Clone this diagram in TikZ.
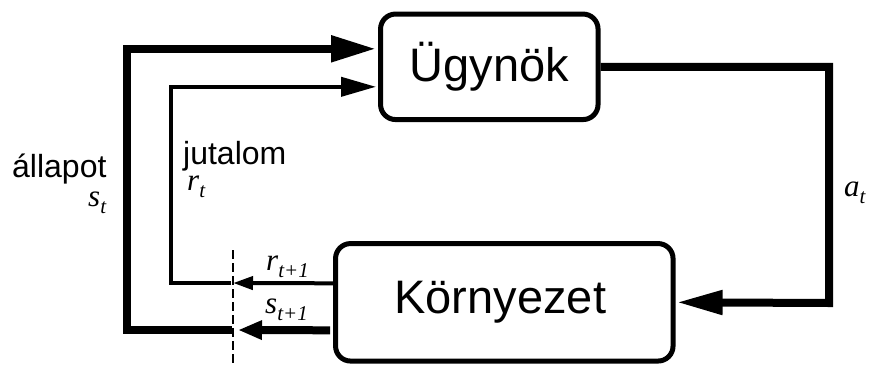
\documentclass[tikz,border=0pt]{standalone}
\usepackage{fontspec}
\setmainfont{Liberation Sans}
\newfontfamily\tms{Liberation Serif}
\usetikzlibrary{arrows.meta}
\newcommand\msub[2]{{\tms\itshape #1\raisebox{-7pt}{\fontsize{21}{21}\selectfont #2}}}
\tikzset{
  boxnode/.style={draw, line width=5pt, rounded corners=15pt, inner sep=0pt,
    font=\fontsize{47}{50}\selectfont},
  heavy/.style={line width=8pt},
  light/.style={line width=4pt},
  lbl/.style={anchor=base west, inner sep=0pt, font=\fontsize{32}{34}\selectfont},
  mlbl/.style={anchor=base west, inner sep=0pt, font=\fontsize{31}{34}\selectfont},
  sepline/.style={line width=1.3pt, dash pattern=on 9pt off 4pt},
}
\begin{document}
\begin{tikzpicture}[x=1pt,y=-1pt]
\useasboundingbox (0,0) rectangle (871,365);
\node[boxnode, minimum width=217.5pt, minimum height=105.5pt] (A) at (489.3,66.8) {Ügynök};
\node[boxnode, minimum width=337.5pt, minimum height=117.5pt] (E) at (504.3,302.3) {\hspace*{-8pt}Környezet};
% coordinates
\coordinate (dtop) at (233,250);
\coordinate (dbot) at (233,368);
\coordinate (rdash) at (233,283);
\coordinate (rleft) at (231,283);
\coordinate (rcorner) at (171,283);
\coordinate (sdash) at (238,330);
\coordinate (sleft) at (232,330);
\coordinate (scorner) at (127,330);
\coordinate (acorner) at (829,303);
% state loop
\draw[heavy, -{Triangle[length=45pt,width=25pt]}, shorten >=2pt] (sleft) -- (scorner) |- ([yshift=18pt]A.west);
% reward loop
\draw[light, -{Triangle[length=35pt,width=19pt]}, shorten >=2pt] (rleft) -- (rcorner) |- ([yshift=-20pt]A.west);
% action
\draw[heavy, -{Triangle[length=46pt,width=23pt]}, shorten >=1pt] (A.east) -| (acorner) -- (E.east);
% environment outputs
\draw[light, -{Triangle[length=20pt,width=13pt]}] ([yshift=19pt]E.west) -- (rdash);
\draw[heavy, -{Triangle[length=24pt,width=18pt]}] ([yshift=-28pt,xshift=-3pt]E.west) -- (sdash);
% separator
\draw[sepline] (dtop) -- (dbot);
% labels
\node[lbl] (lstate) at (12,177) {állapot};
\node[mlbl] (lst) at (88,206) {\msub{s}{t}};
\node[lbl] (lrew) at (183,164) {jutalom};
\node[mlbl] (lrt) at (187,190) {\msub{r}{t}};
\node[mlbl] (lat) at (844,196) {\msub{a}{t}};
\node[mlbl] (lrt1) at (266,270) {\msub{r}{t+1}};
\node[mlbl] (lst1) at (265,313) {\msub{s}{t+1}};
\end{tikzpicture}
\end{document}
